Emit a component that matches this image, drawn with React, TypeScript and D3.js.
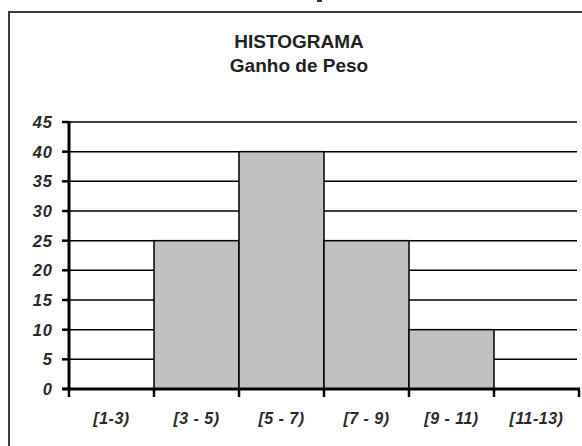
import React from "react";
import * as d3 from "d3";

const categories = ["[1-3)", "[3 - 5)", "[5 - 7)", "[7 - 9)", "[9 - 11)", "[11-13)"];
const values = [0, 25, 40, 25, 10, 0];
const yTicks = [0, 5, 10, 15, 20, 25, 30, 35, 40, 45];
const titleLines = ["HISTOGRAMA", "Ganho de Peso"];

const W = 582;
const H = 446;
const left = 69;
const right = 579;
const top = 122;
const bottom = 389;
const font = "'Liberation Sans', Arial, Helvetica, sans-serif";

export default function App() {
  const x = d3.scaleBand<string>().domain(categories).range([left, right]).padding(0);
  const y = d3.scaleLinear().domain([0, 45]).range([bottom, top]);
  const bw = x.bandwidth();

  return (
    <svg
      width={W}
      height={H}
      style={{ position: "absolute", left: 0, top: 0, background: "#fff" }}
    >
      <rect x={0} y={0} width={W} height={H} fill="#fff" />
      {/* clipped mark at top */}
      <rect x={317} y={0} width={5} height={2} fill="#333" />
      {/* outer frame */}
      <rect x={9} y={12} width={620} height={500} fill="none" stroke="#3a3a3a" strokeWidth={2} />

      {/* title */}
      <text x={299} y={48} textAnchor="middle" fontFamily={font} fontWeight="bold" fontSize={19} fill="#222">
        {titleLines[0]}
      </text>
      <text x={299} y={72} textAnchor="middle" fontFamily={font} fontWeight="bold" fontSize={19} fill="#222">
        {titleLines[1]}
      </text>

      {/* gridlines */}
      {yTicks.filter((t) => t > 0).map((t) => (
        <line key={"g" + t} x1={left} x2={577} y1={y(t)} y2={y(t)} stroke="#000" strokeWidth={1.5} />
      ))}

      {/* bars */}
      {values.map((v, i) =>
        v > 0 ? (
          <rect
            key={"b" + i}
            x={x(categories[i])!}
            y={y(v)}
            width={bw}
            height={y(0) - y(v)}
            fill="#c0c0c0"
            stroke="#000"
            strokeWidth={1.5}
          />
        ) : null
      )}

      {/* y axis */}
      <line x1={left} x2={left} y1={top - 1} y2={bottom + 1} stroke="#000" strokeWidth={3} />
      {yTicks.map((t) => (
        <g key={"yt" + t}>
          <line x1={62} x2={left} y1={y(t)} y2={y(t)} stroke="#000" strokeWidth={2.5} />
          <text
            x={53}
            y={y(t) + 6}
            textAnchor="end"
            fontFamily={font}
            fontWeight="bold"
            fontStyle="italic"
            fontSize={16.5}
            letterSpacing={1}
            fill="#2a2a2a"
          >
            {t}
          </text>
        </g>
      ))}

      {/* x axis */}
      <line x1={62} x2={right + 1} y1={bottom} y2={bottom} stroke="#000" strokeWidth={3} />
      {categories.map((c, i) => (
        <line
          key={"xt" + i}
          x1={x(c)!}
          x2={x(c)!}
          y1={bottom}
          y2={bottom + 8}
          stroke="#000"
          strokeWidth={2.5}
        />
      ))}
      <line x1={right} x2={right} y1={bottom} y2={bottom + 8} stroke="#000" strokeWidth={2.5} />
      {categories.map((c) => (
        <text
          key={"xl" + c}
          x={x(c)! + bw / 2}
          y={424}
          textAnchor="middle"
          fontFamily={font}
          fontWeight="bold"
          fontStyle="italic"
          fontSize={16}
          letterSpacing={0.5}
          fill="#2a2a2a"
        >
          {c}
        </text>
      ))}
    </svg>
  );
}
